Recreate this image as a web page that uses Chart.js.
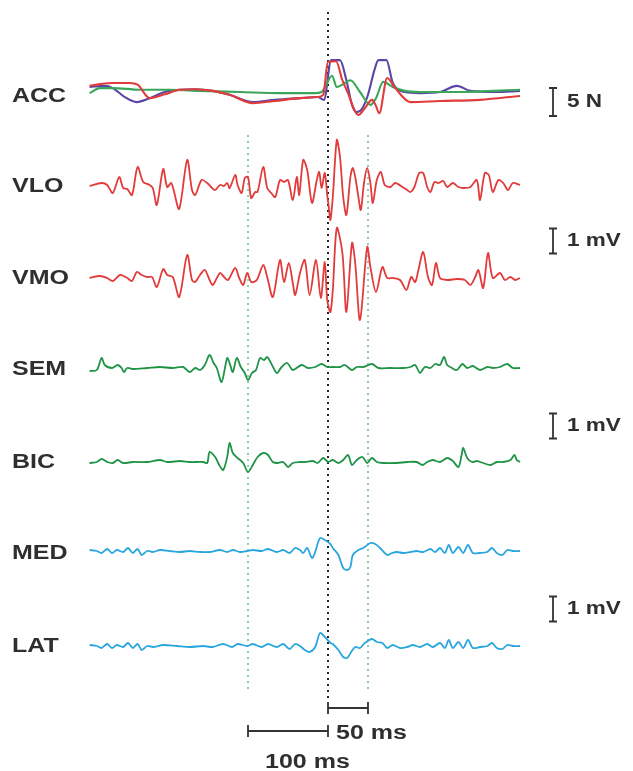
<!DOCTYPE html>
<html>
<head>
<meta charset="utf-8">
<script src="https://cdn.jsdelivr.net/npm/chart.js@4.4.1/dist/chart.umd.min.js"></script>
<style>
  body { margin: 0; background: #fff; }
  canvas { display: block; }
</style>
</head>
<body>
<canvas id="emgChart" width="633" height="771"></canvas>
<script>
// time in ms relative to the event (black dotted line)
// ACC in N, EMG channels in mV

const accRedT = [-298,-285,-269,-248,-238,-223,-204,-185,-166,-144,-123,-94,-66,-35,-13,-6,0,10,18,25,33,38,46,55,60,64,74,84,103,140,190,240];
const accRed = [1.1,1.4,1.6,1.6,1.3,-1.1,-0.4,0.4,0.5,0.2,-0.5,-2.0,-1.6,-1.1,-0.9,-0.5,5.4,5.5,2.1,-0.2,-3.2,-4.1,-2.9,-1.4,-2.5,-3.8,2.5,0.7,-1.8,-1.6,-1.4,-0.7];

const accPurpleT = [-298,-279,-269,-254,-239,-223,-204,-185,-166,-144,-123,-94,-66,-35,-13,-5,4,15,23,30,36,43,50,58,63,73,81,96,115,140,161,178,209,240];
const accPurple = [0.9,1.1,0.7,-0.9,-1.8,-1.1,0,0.4,0.5,0.2,-0.5,-1.8,-1.4,-1.1,-0.9,-1.4,5.7,5.7,2.1,-2.3,-3.6,-2.9,-0.5,3.9,5.7,5.7,1.6,0,-0.2,0,1.1,0.2,0,0.2];

const accGreenT = [-298,-285,-269,-235,-198,-160,-110,-60,-16,-8,-3,5,11,19,28,40,53,60,69,81,96,115,165,240];
const accGreen = [-0.2,0.7,0.7,0.4,0.4,0.2,0,-0.2,-0.2,0,1.1,2.9,0.9,1.4,2.1,0,-2.3,-1.1,1.8,0.9,0.2,0,0,0.4];

const vloT = [-298,-283,-276,-269,-261,-256,-251,-245,-238,-231,-223,-219,-214,-206,-201,-196,-193,-186,-176,-170,-166,-158,-151,-145,-141,-135,-130,-126,-123,-116,-113,-108,-104,-100,-96,-91,-88,-81,-76,-71,-66,-60,-55,-50,-44,-39,-36,-31,-26,-20,-14,-11,-8,-4,-1,1,3,6,11,15,19,23,28,31,34,38,41,45,49,53,56,61,66,71,78,84,93,99,103,108,114,119,124,128,133,138,144,149,156,163,169,178,186,190,196,201,206,213,219,225,231,240];
const vlo = [-0.04,0.08,0,-0.32,0.32,-0.12,-0.16,-0.4,0.72,0.12,0,-0.12,-0.8,0.64,-0.08,0.08,-0.2,-0.96,1.0,-0.2,-0.4,0.2,0.08,-0.12,-0.2,0,-0.04,0.08,-0.12,0.4,0,-0.32,0.28,0.32,-0.52,-0.28,-0.28,0.72,-0.12,-0.32,-0.48,0.2,0.12,0.2,-0.6,0.32,-0.4,1.0,0.6,-0.72,0.2,0.52,-0.12,0.48,-0.4,-0.88,-1.4,-0.48,1.8,1.12,-0.48,-1.2,0.32,0.68,0.32,-0.48,-1.0,0.08,0.68,0.08,-0.72,0.2,0.52,0,-0.08,0.08,-0.08,-0.2,-0.28,-0.08,0.48,0.48,-0.08,-0.28,0.12,0.08,0.16,-0.08,0.08,-0.08,-0.12,-0.08,0.2,-0.6,0.48,0.4,-0.28,0.2,0.08,-0.2,0.08,0];

const vmoT = [-298,-285,-276,-269,-260,-251,-245,-239,-233,-226,-220,-214,-206,-201,-194,-186,-176,-170,-166,-160,-154,-148,-144,-135,-130,-125,-116,-111,-106,-101,-96,-89,-81,-76,-69,-60,-55,-49,-44,-41,-35,-29,-23,-15,-9,-4,-1,3,6,11,18,23,30,34,40,49,53,60,68,74,81,90,98,104,109,113,119,125,130,135,140,149,161,171,178,184,188,194,200,206,215,221,228,234,240];
const vmo = [0,0.08,0,-0.12,0.12,0,-0.12,0.24,0.12,0.04,0.04,-0.36,0.36,0.12,0.04,-0.76,0.92,-0.08,-0.16,0.12,0.32,-0.08,-0.28,0.2,0.04,-0.08,0.4,0,-0.28,0.2,-0.16,-0.08,0.52,0.04,-0.76,0.72,-0.16,0.6,-0.2,-0.68,0.2,0.72,-0.68,0.72,-0.8,0.64,-0.88,-1.36,-0.48,2.0,1.0,-1.36,1.4,0.6,-1.68,1.24,0.44,-0.56,0.44,0,0,-0.08,-0.48,0.04,-0.16,0.32,1.04,0.04,-0.28,0.6,0,-0.08,-0.04,-0.08,-0.28,0.04,0.32,-0.4,1.0,0,0.2,-0.08,0.04,-0.08,0];

const semT = [-298,-289,-283,-279,-270,-263,-258,-255,-251,-244,-226,-210,-194,-181,-173,-166,-160,-154,-148,-143,-139,-133,-126,-123,-119,-114,-109,-104,-100,-95,-90,-85,-80,-76,-70,-64,-58,-51,-44,-33,-25,-16,-8,-1,6,15,21,30,36,44,55,63,78,94,103,109,115,121,128,134,140,145,149,155,161,168,174,181,190,199,206,215,224,231,240];
const sem = [-0.08,-0.04,0.44,0.16,0.04,0.16,0.04,-0.12,0.04,0,0.04,0.08,0.04,0.08,-0.12,0.04,-0.04,0.16,0.56,0.24,0.04,-0.52,0.44,0.24,-0.12,0.44,0.08,-0.16,-0.44,-0.16,-0.04,0.44,0.36,0.48,0.16,-0.16,0.08,0.24,-0.04,0.16,0.04,0.08,0.2,0.08,0.08,0.08,0.16,-0.04,0.08,0.08,0.2,0.04,0.04,0.04,0.08,0.16,-0.16,0.08,0.04,0.2,0.16,0.48,0.16,0.04,-0.04,0.2,0.04,0.12,-0.04,0.08,0.04,0.08,0.2,0.04,0.04];

const bicT = [-298,-289,-283,-276,-269,-263,-256,-244,-226,-210,-201,-185,-173,-156,-151,-148,-141,-136,-131,-126,-123,-119,-113,-106,-100,-94,-88,-81,-75,-69,-63,-56,-50,-44,-35,-29,-19,-13,-6,0,6,13,19,25,30,36,43,49,55,61,69,86,99,111,118,124,131,140,149,156,163,167,169,174,180,186,194,203,211,219,228,233,236,240];
const bic = [-0.04,0,0.12,0,-0.04,0.08,-0.04,0,0,0.08,0,0.04,0,0,-0.04,0.4,0.2,-0.12,-0.32,0.2,0.76,0.36,0.16,-0.04,-0.4,-0.12,0.2,0.36,0.28,0,-0.04,0,-0.2,-0.04,0,0,0.04,-0.04,0.16,0,0.08,-0.04,0.08,0.28,-0.12,0.08,0.2,-0.04,0.16,0,-0.04,-0.04,0,0,-0.12,0,0.08,0,0.16,0.04,-0.2,0.28,0.56,0.16,0,0.04,-0.04,-0.12,0,0,0.08,0.28,0.08,0];

const medT = [-298,-289,-283,-276,-270,-264,-256,-250,-244,-238,-233,-226,-219,-210,-198,-185,-173,-160,-148,-135,-126,-119,-110,-101,-94,-83,-75,-64,-56,-48,-41,-35,-31,-26,-20,-16,-10,-4,3,6,13,19,24,28,31,38,44,53,59,65,74,80,86,94,103,111,119,128,134,140,146,151,156,163,169,175,181,190,199,205,211,218,224,231,240];
const med = [0.04,0,-0.08,0.08,-0.08,0.04,-0.04,0.12,-0.08,0.08,-0.16,0,-0.04,0.04,0,-0.04,0,-0.04,-0.04,0.04,-0.04,0.04,-0.04,0,0.04,0,0.08,-0.04,0.04,-0.08,0.12,0.04,-0.08,0.12,-0.28,-0.04,0.52,0.44,0.28,0.12,-0.16,-0.68,-0.76,-0.64,-0.16,0.04,0.12,0.32,0.28,0.12,-0.16,-0.08,-0.04,-0.08,-0.04,0,-0.04,0.08,-0.04,0.12,-0.08,0.24,-0.08,0.16,-0.08,0.24,-0.08,-0.08,-0.04,0.12,-0.08,-0.16,0.04,0,0];

const latT = [-298,-289,-283,-276,-270,-264,-256,-250,-244,-238,-233,-226,-219,-206,-189,-173,-156,-144,-131,-120,-113,-101,-94,-83,-75,-64,-56,-48,-41,-35,-29,-23,-16,-10,-4,3,6,13,19,24,29,34,40,46,55,61,68,74,81,90,99,106,115,124,131,140,146,151,156,163,169,175,181,190,199,205,211,218,224,231,240];
const lat = [0.04,0,-0.08,0.08,-0.08,0.04,-0.04,0.12,-0.08,0.08,-0.16,0,-0.04,0.04,0,-0.04,0,-0.04,0.08,-0.04,0.08,0,0.08,-0.04,0.08,-0.04,0.08,-0.12,0.08,0,-0.16,-0.24,-0.04,0.52,0.36,0.12,0.08,-0.16,-0.44,-0.48,-0.24,-0.04,-0.08,0.12,0.28,0.16,0.12,-0.08,0.04,-0.08,-0.04,0.04,-0.04,0.08,-0.04,0.12,-0.08,0.24,-0.08,0.16,-0.08,0.24,-0.08,-0.04,0,0.12,-0.08,-0.12,0.04,0,0];

const markerTimes = [-100, 0, 50];

// ---- layout (pixels on the 633x771 canvas) ----
const RED = '#e23b3b', PURPLE = '#5b46a6', ACCGREEN = '#3aa65a', GREEN = '#1f9346', BLUE = '#2aa6df';
const TEXT = '#2f2f2f';
const N_GAIN = 5.6;   // px per N
const MV_GAIN = 25;   // px per mV

const traces = [
  {t: accRedT, v: accRed, base: 92, gain: N_GAIN, color: RED, width: 2.1, mono: true},
  {t: accGreenT, v: accGreen, base: 92, gain: N_GAIN, color: ACCGREEN, width: 2.1, mono: true},
  {t: accPurpleT, v: accPurple, base: 92, gain: N_GAIN, color: PURPLE, width: 2.1, mono: true},
  {t: vloT, v: vlo, base: 185, gain: MV_GAIN, color: RED, width: 1.8},
  {t: vmoT, v: vmo, base: 278, gain: MV_GAIN, color: RED, width: 1.8},
  {t: semT, v: sem, base: 369, gain: MV_GAIN, color: GREEN, width: 1.8},
  {t: bicT, v: bic, base: 462, gain: MV_GAIN, color: GREEN, width: 1.8},
  {t: medT, v: med, base: 551, gain: MV_GAIN, color: BLUE, width: 1.8},
  {t: latT, v: lat, base: 646, gain: MV_GAIN, color: BLUE, width: 1.8}
];

const rowLabels = [
  {text: 'ACC', y: 96}, {text: 'VLO', y: 186}, {text: 'VMO', y: 278}, {text: 'SEM', y: 369},
  {text: 'BIC', y: 462}, {text: 'MED', y: 553}, {text: 'LAT', y: 646}
];

const ampBars = [
  {center: 102, value: 5, gain: N_GAIN, text: '5 N'},
  {center: 241, value: 1, gain: MV_GAIN, text: '1 mV'},
  {center: 426, value: 1, gain: MV_GAIN, text: '1 mV'},
  {center: 609, value: 1, gain: MV_GAIN, text: '1 mV'}
];

const markerStyle = [
  {color: '#8fcfa8', from: 135, to: 690},
  {color: '#222', from: 12, to: 700},
  {color: '#8fcfa8', from: 135, to: 690}
];

function drawText(ctx, text, x, y, size) {
  ctx.save();
  ctx.translate(x, y);
  ctx.scale(1.25, 1);
  ctx.font = 'bold ' + size + 'px "Liberation Sans", Arial, sans-serif';
  ctx.fillStyle = TEXT;
  ctx.textBaseline = 'middle';
  ctx.fillText(text, 0, 0);
  ctx.restore();
}

function hBar(ctx, x1, x2, y) {
  ctx.beginPath();
  ctx.moveTo(x1, y); ctx.lineTo(x2, y);
  ctx.moveTo(x1, y - 6); ctx.lineTo(x1, y + 6);
  ctx.moveTo(x2, y - 6); ctx.lineTo(x2, y + 6);
  ctx.stroke();
}

const overlay = {
  id: 'overlay',
  beforeDatasetsDraw(chart) {
    const ctx = chart.ctx, xs = chart.scales.x;
    markerTimes.forEach((t, i) => {
      const m = markerStyle[i];
      const px = Math.round(xs.getPixelForValue(t));
      ctx.save();
      ctx.strokeStyle = m.color;
      ctx.lineWidth = 2;
      ctx.setLineDash([2, 4]);
      ctx.beginPath();
      ctx.moveTo(px, m.from);
      ctx.lineTo(px, m.to);
      ctx.stroke();
      ctx.restore();
    });
  },
  afterDatasetsDraw(chart) {
    const ctx = chart.ctx, xs = chart.scales.x;
    rowLabels.forEach(l => drawText(ctx, l.text, 12, l.y, 20));

    ctx.save();
    ctx.strokeStyle = '#333';
    ctx.lineWidth = 1.8;
    ampBars.forEach(b => {
      const half = b.value * b.gain / 2;
      ctx.beginPath();
      ctx.moveTo(553, b.center - half); ctx.lineTo(553, b.center + half);
      ctx.moveTo(549, b.center - half); ctx.lineTo(557, b.center - half);
      ctx.moveTo(549, b.center + half); ctx.lineTo(557, b.center + half);
      ctx.stroke();
      drawText(ctx, b.text, 567, b.center, 18);
    });

    // time scale bars
    const p0 = xs.getPixelForValue(0), p50 = xs.getPixelForValue(50), pm100 = xs.getPixelForValue(-100);
    hBar(ctx, p0, p50, 708);
    hBar(ctx, pm100, p0, 731);
    ctx.restore();
    drawText(ctx, '50 ms', 336, 733, 20);
    drawText(ctx, '100 ms', 265, 762, 20);
  }
};

new Chart(document.getElementById('emgChart').getContext('2d'), {
  type: 'line',
  data: {
    datasets: traces.map(tr => ({
      data: tr.t.map((t, i) => ({x: t, y: tr.base - tr.v[i] * tr.gain})),
      borderColor: tr.color,
      borderWidth: tr.width,
      pointRadius: 0,
      tension: 0.3,
      cubicInterpolationMode: tr.mono ? 'monotone' : 'default'
    }))
  },
  options: {
    responsive: false,
    animation: false,
    layout: { padding: 0 },
    plugins: { legend: { display: false }, tooltip: { enabled: false } },
    scales: {
      x: { type: 'linear', display: false, min: -410, max: 381.25 },
      y: { display: false, min: 0, max: 771, reverse: true }
    }
  },
  plugins: [overlay]
});
</script>
</body>
</html>
